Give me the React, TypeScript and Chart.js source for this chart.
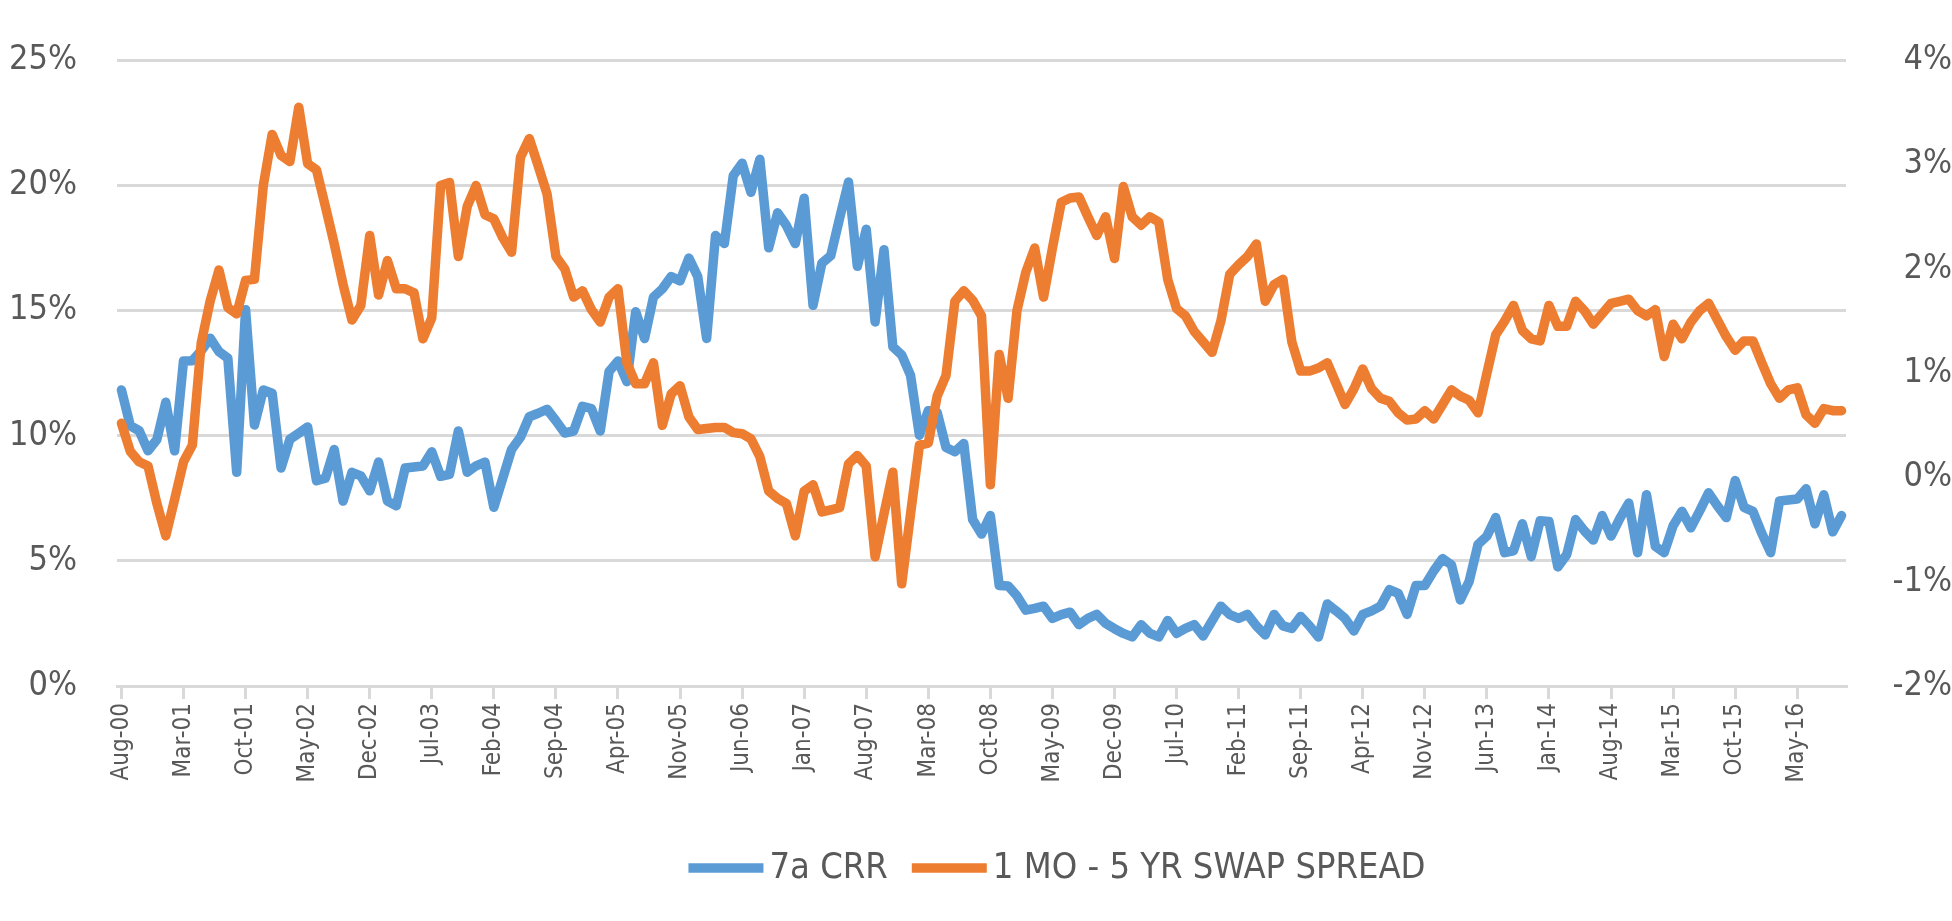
import React, { useEffect, useRef } from "react";
import { Chart, registerables } from "chart.js";

Chart.register(...registerables);

const CATEGORIES = [
  "Aug-00", "Sep-00", "Oct-00", "Nov-00", "Dec-00",
  "Jan-01", "Feb-01", "Mar-01", "Apr-01", "May-01", "Jun-01", "Jul-01", "Aug-01", "Sep-01", "Oct-01", "Nov-01", "Dec-01",
  "Jan-02", "Feb-02", "Mar-02", "Apr-02", "May-02", "Jun-02", "Jul-02", "Aug-02", "Sep-02", "Oct-02", "Nov-02", "Dec-02",
  "Jan-03", "Feb-03", "Mar-03", "Apr-03", "May-03", "Jun-03", "Jul-03", "Aug-03", "Sep-03", "Oct-03", "Nov-03", "Dec-03",
  "Jan-04", "Feb-04", "Mar-04", "Apr-04", "May-04", "Jun-04", "Jul-04", "Aug-04", "Sep-04", "Oct-04", "Nov-04", "Dec-04",
  "Jan-05", "Feb-05", "Mar-05", "Apr-05", "May-05", "Jun-05", "Jul-05", "Aug-05", "Sep-05", "Oct-05", "Nov-05", "Dec-05",
  "Jan-06", "Feb-06", "Mar-06", "Apr-06", "May-06", "Jun-06", "Jul-06", "Aug-06", "Sep-06", "Oct-06", "Nov-06", "Dec-06",
  "Jan-07", "Feb-07", "Mar-07", "Apr-07", "May-07", "Jun-07", "Jul-07", "Aug-07", "Sep-07", "Oct-07", "Nov-07", "Dec-07",
  "Jan-08", "Feb-08", "Mar-08", "Apr-08", "May-08", "Jun-08", "Jul-08", "Aug-08", "Sep-08", "Oct-08", "Nov-08", "Dec-08",
  "Jan-09", "Feb-09", "Mar-09", "Apr-09", "May-09", "Jun-09", "Jul-09", "Aug-09", "Sep-09", "Oct-09", "Nov-09", "Dec-09",
  "Jan-10", "Feb-10", "Mar-10", "Apr-10", "May-10", "Jun-10", "Jul-10", "Aug-10", "Sep-10", "Oct-10", "Nov-10", "Dec-10",
  "Jan-11", "Feb-11", "Mar-11", "Apr-11", "May-11", "Jun-11", "Jul-11", "Aug-11", "Sep-11", "Oct-11", "Nov-11", "Dec-11",
  "Jan-12", "Feb-12", "Mar-12", "Apr-12", "May-12", "Jun-12", "Jul-12", "Aug-12", "Sep-12", "Oct-12", "Nov-12", "Dec-12",
  "Jan-13", "Feb-13", "Mar-13", "Apr-13", "May-13", "Jun-13", "Jul-13", "Aug-13", "Sep-13", "Oct-13", "Nov-13", "Dec-13",
  "Jan-14", "Feb-14", "Mar-14", "Apr-14", "May-14", "Jun-14", "Jul-14", "Aug-14", "Sep-14", "Oct-14", "Nov-14", "Dec-14",
  "Jan-15", "Feb-15", "Mar-15", "Apr-15", "May-15", "Jun-15", "Jul-15", "Aug-15", "Sep-15", "Oct-15", "Nov-15", "Dec-15",
  "Jan-16", "Feb-16", "Mar-16", "Apr-16", "May-16", "Jun-16", "Jul-16", "Aug-16", "Sep-16", "Oct-16",
];

// 7a CRR (left axis, %)
const CRR = [
  11.83, 10.4, 10.2, 9.4, 9.85,
  11.34, 9.4, 12.99, 13.0, 13.4, 13.9, 13.36, 13.1, 8.54, 15.04, 10.43, 11.83,
  11.7, 8.71, 9.86, 10.1, 10.35, 8.2, 8.3, 9.45, 7.39, 8.54, 8.4, 7.8,
  8.95, 7.39, 7.2, 8.71, 8.75, 8.79, 9.36, 8.38, 8.46, 10.19, 8.54, 8.8,
  8.95, 7.14, 8.3, 9.45, 9.94, 10.76, 10.9, 11.06, 10.6, 10.11, 10.19, 11.18,
  11.09, 10.19, 12.57, 12.99, 12.16, 14.96, 13.89, 15.54, 15.87, 16.36, 16.19, 17.1,
  16.36, 13.89, 18.0, 17.68, 20.39, 20.89, 19.73, 21.05, 17.51, 18.91, 18.4, 17.68,
  19.49, 15.21, 16.9, 17.2, 18.7, 20.14, 16.77, 18.25, 14.55, 17.43, 13.56, 13.23,
  12.41, 10.02, 11.0, 10.93, 9.53, 9.36, 9.69, 6.65, 6.07, 6.81, 4.02, 4.0,
  3.6, 3.03, 3.1, 3.19, 2.7, 2.85, 2.95, 2.45, 2.7, 2.86, 2.5, 2.29,
  2.1, 1.96, 2.45, 2.1, 1.96, 2.62, 2.1, 2.3, 2.45, 2.0, 2.6, 3.19,
  2.85, 2.7, 2.86, 2.4, 2.04, 2.86, 2.4, 2.3, 2.78, 2.4, 1.96, 3.28,
  3.0, 2.7, 2.2, 2.86, 3.0, 3.19, 3.85, 3.7, 2.86, 4.02, 4.02, 4.6,
  5.09, 4.84, 3.44, 4.18, 5.66, 5.99, 6.73, 5.33, 5.4, 6.48, 5.17, 6.6,
  6.57, 4.76, 5.25, 6.65, 6.2, 5.83, 6.81, 5.99, 6.7, 7.31, 5.33, 7.64,
  5.58, 5.33, 6.4, 6.98, 6.32, 7.0, 7.72, 7.2, 6.73, 8.21, 7.14, 6.98,
  6.1, 5.33, 7.39, 7.43, 7.47, 7.88, 6.48, 7.64, 6.16, 6.81,
];

// 1 MO - 5 YR swap spread (right axis, %)
const SPREAD = [
  0.52, 0.25, 0.15, 0.11, -0.25,
  -0.56, -0.21, 0.15, 0.31, 1.29, 1.69, 1.99, 1.63, 1.57, 1.89, 1.9, 2.8,
  3.29, 3.09, 3.03, 3.55, 3.01, 2.95, 2.6, 2.24, 1.85, 1.51, 1.65, 2.32,
  1.75, 2.08, 1.81, 1.81, 1.77, 1.33, 1.53, 2.8, 2.83, 2.12, 2.6, 2.8,
  2.52, 2.48, 2.3, 2.16, 3.07, 3.25, 2.99, 2.72, 2.12, 2.0, 1.73, 1.79,
  1.61, 1.49, 1.73, 1.81, 1.1, 0.9, 0.9, 1.1, 0.5, 0.8, 0.88, 0.58,
  0.46, 0.47, 0.48, 0.48, 0.43, 0.42, 0.37, 0.2, -0.13, -0.2, -0.25, -0.56,
  -0.13, -0.07, -0.33, -0.31, -0.29, 0.13, 0.21, 0.11, -0.76, -0.35, 0.05, -1.02,
  -0.35, 0.31, 0.33, 0.78, 0.98, 1.69, 1.79, 1.7, 1.55, -0.07, 1.18, 0.76,
  1.6, 1.97, 2.2, 1.73, 2.2, 2.64, 2.68, 2.69, 2.5, 2.32, 2.5, 2.1,
  2.79, 2.5, 2.42, 2.5, 2.45, 1.9, 1.62, 1.55, 1.4, 1.3, 1.2, 1.5,
  1.95, 2.04, 2.12, 2.24, 1.69, 1.85, 1.9, 1.3, 1.02, 1.02, 1.05, 1.1,
  0.9, 0.7, 0.85, 1.04, 0.85, 0.76, 0.73, 0.62, 0.55, 0.56, 0.64, 0.56,
  0.7, 0.84, 0.78, 0.74, 0.62, 1.0, 1.37, 1.5, 1.65, 1.41, 1.33, 1.31,
  1.65, 1.45, 1.45, 1.69, 1.6, 1.47, 1.57, 1.67, 1.69, 1.71, 1.6, 1.55,
  1.61, 1.16, 1.47, 1.33, 1.49, 1.6, 1.67, 1.51, 1.35, 1.22, 1.31, 1.31,
  1.1, 0.9, 0.76, 0.84, 0.86, 0.6, 0.52, 0.66, 0.64, 0.64,
];

const SERIES_NAMES = ["7a CRR", "1 MO - 5 YR SWAP SPREAD"];
const LEFT_TICKS = [0, 5, 10, 15, 20, 25];
const RIGHT_TICKS = [-2, -1, 0, 1, 2, 3, 4];
const LABEL_EVERY = 7;

const BLUE = "#5B9BD5";
const ORANGE = "#ED7D31";
const TEXT = "#595959";
const GRID = "#d9d9d9";
const FONT = "'Liberation Sans Narrow', 'DejaVu Sans Condensed', 'Liberation Sans', sans-serif";

const LINE_W = 9.5;
const LEGEND_CENTER_X = 1057;
const LEGEND_Y = 868;
const LEGEND_FONT = 36;
const LEGEND_SAMPLE = 75;

const legendPlugin = {
  id: "bottomLegend",
  afterDraw(chart: any) {
    const ctx = chart.ctx;
    ctx.save();
    ctx.font = `${LEGEND_FONT}px ${FONT}`;
    ctx.textBaseline = "middle";
    ctx.textAlign = "left";
    const items = chart.data.datasets.map((ds: any) => ({
      label: ds.label,
      color: ds.borderColor,
      w: ctx.measureText(ds.label).width,
    }));
    const gapText = 6;
    const gapItem = 24;
    const total = items.reduce((s: number, it: any) => s + LEGEND_SAMPLE + gapText + it.w, 0) + gapItem * (items.length - 1);
    let x = LEGEND_CENTER_X - total / 2;
    items.forEach((it: any) => {
      ctx.strokeStyle = it.color;
      ctx.lineWidth = LINE_W;
      ctx.lineCap = "butt";
      ctx.beginPath();
      ctx.moveTo(x, LEGEND_Y);
      ctx.lineTo(x + LEGEND_SAMPLE, LEGEND_Y);
      ctx.stroke();
      x += LEGEND_SAMPLE + gapText;
      ctx.fillStyle = TEXT;
      ctx.fillText(it.label, x, LEGEND_Y + 1);
      x += it.w + gapItem;
    });
    ctx.restore();
  },
};

export default function App() {
  const ref = useRef<HTMLCanvasElement | null>(null);

  useEffect(() => {
    if (!ref.current) return;
    const chart = new Chart(ref.current, {
      type: "line",
      data: {
        labels: CATEGORIES,
        datasets: [
          {
            label: SERIES_NAMES[0],
            data: CRR,
            yAxisID: "y",
            borderColor: BLUE,
            backgroundColor: BLUE,
            borderWidth: LINE_W,
            pointRadius: 0,
            tension: 0,
            borderJoinStyle: "round",
            borderCapStyle: "round",
            order: 1,
          },
          {
            label: SERIES_NAMES[1],
            data: SPREAD,
            yAxisID: "y1",
            borderColor: ORANGE,
            backgroundColor: ORANGE,
            borderWidth: LINE_W,
            pointRadius: 0,
            tension: 0,
            borderJoinStyle: "round",
            borderCapStyle: "round",
            order: 0,
          },
        ],
      },
      plugins: [legendPlugin],
      options: {
        animation: false,
        responsive: true,
        maintainAspectRatio: false,
        events: [],
        layout: { padding: { top: 37, bottom: 78, left: 0, right: 0 } },
        plugins: {
          tooltip: { enabled: false },
          title: { display: false },
          legend: { display: false },
        },
        scales: {
          x: {
            type: "category",
            offset: true,
            afterBuildTicks: (scale: any) => {
              scale.ticks = scale.ticks.filter((t: any) => t.value % LABEL_EVERY === 0);
            },
            afterFit: (scale: any) => {
              scale.height = 157;
            },
            grid: {
              offset: false,
              drawOnChartArea: false,
              drawTicks: true,
              tickLength: 13,
              color: GRID,
              lineWidth: 3,
            },
            border: { display: true, color: GRID, width: 3 },
            ticks: {
              autoSkip: false,
              minRotation: 90,
              maxRotation: 90,
              padding: 4,
              color: TEXT,
              font: { family: FONT, size: 24 },
            },
          },
          y: {
            position: "left",
            min: 0,
            max: 25,
            afterBuildTicks: (scale: any) => {
              scale.ticks = LEFT_TICKS.map((v) => ({ value: v }));
            },
            afterFit: (scale: any) => {
              scale.width = 117;
            },
            grid: { color: GRID, lineWidth: 3, drawTicks: false },
            border: { display: false },
            ticks: {
              padding: 40,
              color: TEXT,
              font: { family: FONT, size: 34 },
              callback: (v: any) => `${v}%`,
            },
          },
          y1: {
            position: "right",
            min: -2,
            max: 4,
            afterBuildTicks: (scale: any) => {
              scale.ticks = RIGHT_TICKS.map((v) => ({ value: v }));
            },
            afterFit: (scale: any) => {
              scale.width = 1952 - 1846;
            },
            grid: { drawOnChartArea: false, drawTicks: false },
            border: { display: false },
            ticks: {
              padding: 34,
              crossAlign: "far",
              color: TEXT,
              font: { family: FONT, size: 34 },
              callback: (v: any) => `${v}%`,
            },
          },
        },
      },
    });
    return () => chart.destroy();
  }, []);

  return (
    <div style={{ position: "fixed", left: 0, top: 0, width: 1952, height: 921, background: "#ffffff" }}>
      <canvas ref={ref} />
    </div>
  );
}
